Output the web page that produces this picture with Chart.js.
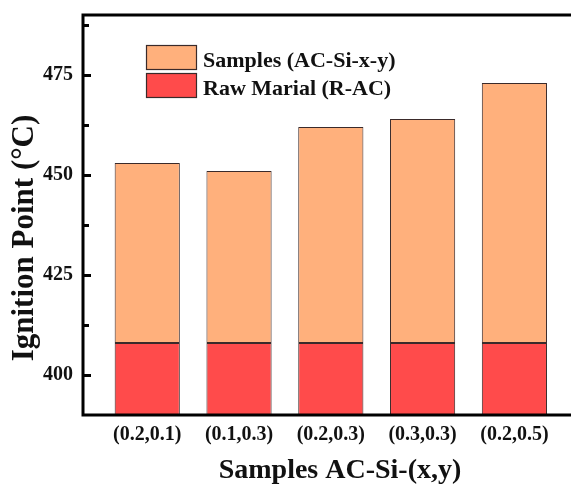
<!DOCTYPE html>
<html>
<head>
<meta charset="utf-8">
<script src="https://cdn.jsdelivr.net/npm/chart.js@4"></script>
<style>
    html, body { margin: 0; padding: 0; background: #fff; overflow: hidden; }
    /* 右の枠線は元画像でも切れているので、キャンバスを少し広げてはみ出させる */
    #wrap { width: 600px; height: 484px; }
</style>
</head>
<body>
<div id="wrap"><canvas id="chart"></canvas></div>
<script>
// データ
const categories = ['(0.2,0.1)', '(0.1,0.3)', '(0.2,0.3)', '(0.3,0.3)', '(0.2,0.5)'];
const rawMaterial = [408, 408, 408, 408, 408];   // R-AC
const samples = [453, 451, 462, 464, 473];       // AC-Si-x-y
const yTicks = [400, 425, 450, 475];
const yMinorTicks = [412.5, 437.5, 462.5, 487.5];

const serif = "'Liberation Serif', 'Times New Roman', serif";
const ORANGE = '#FFB07C';
const RED = '#FF4B4B';
const EDGE = '#3a2a2a';

// 枠・目盛り・軸タイトル・凡例
const decor = {
    id: 'decor',
    afterDraw(chart) {
        const { ctx, chartArea: a, scales } = chart;
        const y = scales.y;
        ctx.save();

        // 内向き目盛り
        ctx.strokeStyle = '#000';
        ctx.lineWidth = 3;
        const tick = (v, len) => {
            const py = Math.round(y.getPixelForValue(v)) + 0.5;
            ctx.beginPath();
            ctx.moveTo(a.left, py);
            ctx.lineTo(a.left + len, py);
            ctx.stroke();
        };
        yTicks.forEach(v => tick(v, 8));
        yMinorTicks.forEach(v => tick(v, 6));

        // 枠（右辺は画面外）
        ctx.beginPath();
        ctx.moveTo(chart.width, a.top);
        ctx.lineTo(a.left, a.top);
        ctx.lineTo(a.left, a.bottom);
        ctx.lineTo(chart.width, a.bottom);
        ctx.stroke();

        // 凡例
        const items = chart.data.datasets;
        ctx.font = `bold 22px ${serif}`;
        ctx.textBaseline = 'alphabetic';
        ctx.textAlign = 'left';
        items.forEach((ds, i) => {
            const bx = a.left + 63, by = a.top + 30 + i * 28;
            ctx.fillStyle = ds.backgroundColor;
            ctx.fillRect(bx, by, 51, 25);
            ctx.lineWidth = 1.2;
            ctx.strokeStyle = EDGE;
            ctx.strokeRect(bx + 0.5, by + 0.5, 50, 24);
            ctx.fillStyle = '#111';
            ctx.fillText(ds.label, bx + 57, by + 22);
        });

        // 軸タイトル
        ctx.fillStyle = '#111';
        ctx.textAlign = 'center';
        ctx.font = `bold 28px ${serif}`;
        ctx.fillText('Samples AC-Si-(x,y)', (a.left + a.right) / 2, 478);

        ctx.translate(33, 238);
        ctx.rotate(-Math.PI / 2);
        ctx.font = `bold 31px ${serif}`;
        ctx.fillText('Ignition Point (\u00B0C)', 0, 0);
        ctx.restore();
    }
};

new Chart(document.getElementById('chart'), {
    type: 'bar',
    data: {
        datasets: [{
            label: 'Samples (AC-Si-x-y)',
            data: samples.map((v, i) => ({ x: i + 1, y: [rawMaterial[i], v] })),
            backgroundColor: ORANGE,
            borderColor: EDGE,
            borderWidth: 1,
            borderSkipped: false
        }, {
            label: 'Raw Marial (R-AC)',
            data: rawMaterial.map((v, i) => ({ x: i + 1, y: v })),
            backgroundColor: RED,
            borderColor: EDGE,
            borderWidth: 1,
            borderSkipped: false
        }]
    },
    options: {
        responsive: true,
        maintainAspectRatio: false,
        animation: false,
        layout: { padding: { top: 15, right: 3, left: 0, bottom: 0 } },
        categoryPercentage: 1,
        barPercentage: 0.71,
        plugins: {
            legend: { display: false },
            tooltip: { enabled: false }
        },
        scales: {
            x: {
                type: 'linear',
                stacked: true,
                offset: false,
                min: 0.3,
                max: 5.9,
                grid: { display: false, drawTicks: false },
                border: { display: false },
                afterBuildTicks: s => { s.ticks = categories.map((c, i) => ({ value: i + 1 })); },
                afterFit: s => { s.height = 69; s.paddingLeft = 0; s.paddingRight = 0; },
                ticks: {
                    autoSkip: false,
                    maxRotation: 0,
                    padding: 8,
                    color: '#111',
                    font: { family: serif, size: 20, weight: 'bold' },
                    callback: v => categories[v - 1]
                }
            },
            y: {
                stacked: false,
                min: 390,
                max: 490,
                grid: { display: false, drawTicks: false },
                border: { display: false },
                afterBuildTicks: s => { s.ticks = yTicks.map(v => ({ value: v })); },
                afterFit: s => { s.width = 83; s.paddingTop = 0; s.paddingBottom = 0; },
                ticks: {
                    padding: 10,
                    color: '#111',
                    font: { family: serif, size: 20, weight: 'bold' }
                }
            }
        }
    },
    plugins: [decor]
});
</script>
</body>
</html>
